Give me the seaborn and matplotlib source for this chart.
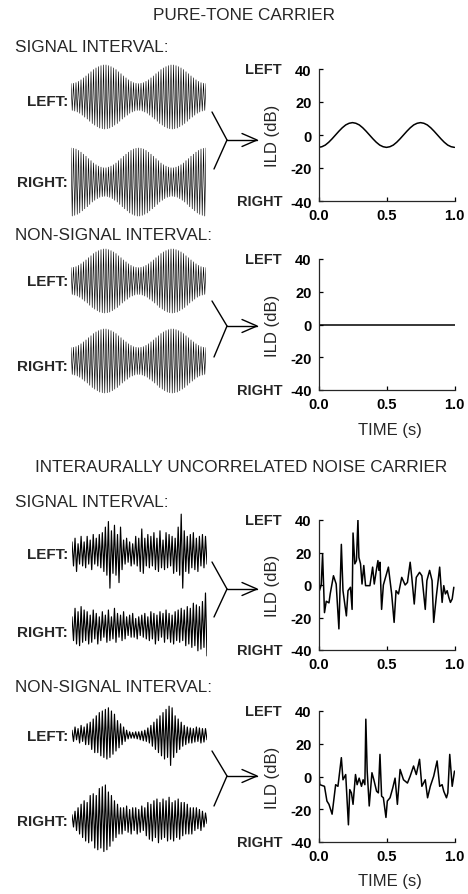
import numpy as np
import matplotlib
matplotlib.use("Agg")
import matplotlib.pyplot as plt
import seaborn as sns

sns.set_style("ticks")
plt.rcParams["font.family"] = ["Liberation Sans", "DejaVu Sans"]

W, H = 468, 895

# ---------------------------------------------------------------- data
# amplitude-modulated pure tone: peak amplitude of each carrier half-cycle
ENV_QUARTER_PEAK = [
    0.42, 0.42, 0.43, 0.44, 0.45, 0.47, 0.49, 0.51, 0.54, 0.57, 0.60, 0.63, 0.66, 0.69,
    0.73, 0.76, 0.79, 0.83, 0.86, 0.88, 0.91, 0.93, 0.95, 0.97, 0.98, 0.99, 1.00, 1.00,
    1.00, 0.99, 0.98, 0.97, 0.95, 0.93, 0.91, 0.88, 0.86, 0.83, 0.79, 0.76, 0.73, 0.69,
    0.66, 0.63, 0.60, 0.57, 0.54, 0.51, 0.49, 0.47, 0.45, 0.44, 0.43, 0.42,
    0.42, 0.42, 0.43, 0.44, 0.45, 0.47, 0.49, 0.51, 0.54, 0.57, 0.60, 0.63, 0.66, 0.69,
    0.73, 0.76, 0.79, 0.83, 0.86, 0.88, 0.91, 0.93, 0.95, 0.97, 0.98, 0.99, 1.00, 1.00,
    1.00, 0.99, 0.98, 0.97, 0.95, 0.93, 0.91, 0.88, 0.86, 0.83, 0.79, 0.76, 0.73, 0.69,
    0.66, 0.63, 0.60, 0.57, 0.54, 0.51, 0.49, 0.47, 0.45, 0.44, 0.43, 0.42,
    0.42]
ENV_EDGE_PEAK = [
    1.00, 1.00, 0.99, 0.98, 0.97, 0.95, 0.93, 0.91, 0.88, 0.85, 0.82, 0.79, 0.76, 0.73,
    0.69, 0.66, 0.63, 0.59, 0.56, 0.54, 0.51, 0.49, 0.47, 0.45, 0.44, 0.43, 0.42, 0.42,
    0.42, 0.43, 0.44, 0.45, 0.47, 0.49, 0.51, 0.54, 0.56, 0.59, 0.63, 0.66, 0.69, 0.73,
    0.76, 0.79, 0.82, 0.85, 0.88, 0.91, 0.93, 0.95, 0.97, 0.98, 0.99, 1.00,
    1.00, 1.00, 0.99, 0.98, 0.97, 0.95, 0.93, 0.91, 0.88, 0.85, 0.82, 0.79, 0.76, 0.73,
    0.69, 0.66, 0.63, 0.59, 0.56, 0.54, 0.51, 0.49, 0.47, 0.45, 0.44, 0.43, 0.42, 0.42,
    0.42, 0.43, 0.44, 0.45, 0.47, 0.49, 0.51, 0.54, 0.56, 0.59, 0.63, 0.66, 0.69, 0.73,
    0.76, 0.79, 0.82, 0.85, 0.88, 0.91, 0.93, 0.95, 0.97, 0.98, 0.99, 1.00,
    1.00]

# interaurally uncorrelated noise, sampled waveforms (relative amplitude)
NOISE_SIG_LEFT = [0.3, -0.35, 0.4, -0.5, 0.25, -0.3, 0.45, -0.35, 0.3, -0.4,
                  0.45, -0.3, 0.35, -0.45, 0.5, -0.3, 0.4, -0.35, 0.5,
                  -0.4, 0.55, -0.5, 0.7, -0.6, 0.85, -0.95, 0.6,
                  -0.55, 0.75, -0.6, 0.5, -0.8, 0.7, -0.45,
                  0.35, -0.3, 0.4, -0.25, 0.3, -0.35, 0.25, -0.3, 0.45, -0.35, 0.4,
                  -0.5, 0.65, -0.55, 0.4, -0.35, 0.5, -0.4, 0.45,
                  -0.35, 0.55, -0.45, 0.4, -0.5, 0.6, -0.4, 0.35, -0.45, 0.55, -0.4,
                  0.5, -0.35, 0.45, -0.55, 0.4,
                  -0.5, 0.7, -0.6, 1.05, -0.95, 0.6, -0.5,
                  0.45, -0.55, 0.5, -0.4, 0.55, -0.45, 0.4, -0.5, 0.45, -0.35, 0.5,
                  -0.4, 0.45, -0.3]
NOISE_SIG_RIGHT = [0.3, -0.4, 0.55, -0.5, 0.45, -0.55, 0.6, -0.45, 0.5, -0.4,
                   0.45, -0.5, 0.35, -0.45, 0.5, -0.35, 0.4, -0.5, 0.3, -0.4, 0.45,
                   -0.3, 0.35, -0.45, 0.5, -0.4, 0.3, -0.35, 0.55, -0.45, 0.4, -0.3,
                   0.35, -0.4, 0.45, -0.35,
                   0.3, -0.25, 0.35, -0.3, 0.4, -0.3, 0.25, -0.35, 0.3, -0.25, 0.35,
                   -0.3, 0.4, -0.35, 0.3,
                   -0.4, 0.45, -0.35, 0.4, -0.5, 0.35, -0.4, 0.45, -0.3, 0.4, -0.45,
                   0.5, -0.35, 0.4, -0.45, 0.35, -0.5, 0.45, -0.4, 0.5, -0.45, 0.55,
                   -0.4, 0.5, -0.55,
                   0.6, -0.5, 0.55, -0.6, 0.7, -0.55, 0.65, -0.7, 0.6, -0.65, 0.75,
                   -0.6, 1.0, -0.85]
NOISE_NON_LEFT = [0.15, -0.2, 0.25, -0.15, 0.2, -0.25, 0.3, -0.2, 0.25, -0.3, 0.35,
                  -0.3, 0.4,
                  -0.45, 0.5, -0.55, 0.6, -0.55, 0.7, -0.65, 0.75, -0.7, 0.8, -0.75,
                  0.85, -0.7, 0.75, -0.6, 0.65, -0.5, 0.45, -0.4, 0.35, -0.3, 0.25,
                  -0.2, 0.15, -0.12, 0.1, -0.1, 0.08, -0.1, 0.1, -0.12, 0.1, -0.15,
                  0.12, -0.18, 0.15, -0.2, 0.22, -0.25,
                  0.3, -0.35, 0.4, -0.45, 0.5, -0.55, 0.6, -0.65, 0.7, -0.75, 0.8,
                  -0.7, 0.9, -0.95, 0.85, -0.7, 0.6, -0.55, 0.5, -0.45, 0.4, -0.35,
                  0.3, -0.3, 0.25,
                  -0.25, 0.22, -0.25, 0.2, -0.22, 0.25, -0.2, 0.22, -0.25, 0.2,
                  -0.22, 0.2, -0.15]
NOISE_NON_RIGHT = [0.15, -0.2, 0.25, -0.3, 0.35,
                   -0.4, 0.45, -0.5, 0.55, -0.6, 0.5, -0.65, 0.7, -0.6, 0.75, -0.8,
                   0.7, -0.85, 0.9, -0.8, 0.95, -0.9, 1.0, -0.85, 0.8, -0.75, 0.7,
                   -0.6, 0.55, -0.5, 0.45, -0.4,
                   0.35, -0.4, 0.35, -0.3, 0.4, -0.35, 0.3, -0.4, 0.35, -0.3, 0.35,
                   -0.4, 0.3, -0.35, 0.4, -0.3, 0.35,
                   -0.45, 0.5, -0.55, 0.45, -0.6, 0.55, -0.5, 0.6, -0.65, 0.5, -0.55,
                   0.6, -0.5, 0.55, -0.6, 0.65, -0.55, 0.5, -0.6, 0.55, -0.5, 0.6,
                   -0.55, 0.5, -0.45, 0.5, -0.4, 0.45, -0.4, 0.35, -0.4,
                   0.35, -0.3, 0.35, -0.25, 0.3, -0.3, 0.25, -0.2, 0.2, -0.1]

# interaural level difference traces (dB)
ILD_TONE_T = [0.000, 0.025, 0.050, 0.075, 0.100, 0.125, 0.150, 0.175, 0.200, 0.225,
              0.250, 0.275, 0.300, 0.325, 0.350, 0.375, 0.400, 0.425, 0.450, 0.475,
              0.500, 0.525, 0.550, 0.575, 0.600, 0.625, 0.650, 0.675, 0.700, 0.725,
              0.750, 0.775, 0.800, 0.825, 0.850, 0.875, 0.900, 0.925, 0.950, 0.975,
              1.000]
ILD_TONE_SIG = [-7.5, -7.1, -6.1, -4.4, -2.3, 0.0, 2.3, 4.4, 6.1, 7.1,
                7.5, 7.1, 6.1, 4.4, 2.3, 0.0, -2.3, -4.4, -6.1, -7.1,
                -7.5, -7.1, -6.1, -4.4, -2.3, 0.0, 2.3, 4.4, 6.1, 7.1,
                7.5, 7.1, 6.1, 4.4, 2.3, 0.0, -2.3, -4.4, -6.1, -7.1, -7.5]
ILD_TONE_NON_T = [0.0, 0.25, 0.5, 0.75, 1.0]
ILD_TONE_NON = [0.0, 0.0, 0.0, 0.0, 0.0]

ILD_NOISE_SIG_T = [0, 0.007, 0.02, 0.03, 0.044, 0.057, 0.077, 0.086, 0.11, 0.13,
                   0.15, 0.168, 0.18, 0.205, 0.217, 0.235, 0.247, 0.254, 0.267, 0.279,
                   0.29, 0.297, 0.309, 0.32, 0.333, 0.346, 0.378, 0.398, 0.41, 0.427,
                   0.437, 0.444, 0.452, 0.464, 0.477, 0.514, 0.538, 0.556, 0.57, 0.588,
                   0.612, 0.637, 0.654, 0.674, 0.686, 0.704, 0.719, 0.743, 0.76, 0.785,
                   0.797, 0.817, 0.835, 0.847, 0.867, 0.891, 0.909, 0.921, 0.933, 0.946,
                   0.958, 0.97, 0.983, 0.995]
ILD_NOISE_SIG = [19, -3.5, 0, 19, -17, -10, -11, -5.5, 5.7, 0.6,
                 -27, 25, -3.5, -19, -3.5, -1.4, -15, 32, 13, 15,
                 40, 17, 13, 0.6, 12, -0.4, -0.4, 11, 0.6, 10,
                 15, 9, 14, -15, 0, 11, -5.5, -23, -3.5, -5.5,
                 4.7, 0, 1.6, 14, 4.7, -11.7, 4.7, 7.8, 5.7, -15,
                 2.7, 9, 2.7, -23, -6.5, 11, -10.7, -0.4, -5.5, -3.5,
                 -7.6, -10.7, -8.6, -1.4]
ILD_NOISE_NON_T = [0, 0.01, 0.044, 0.062, 0.077, 0.1, 0.126, 0.143, 0.168, 0.18,
                   0.2, 0.22, 0.23, 0.242, 0.254, 0.272, 0.284, 0.299, 0.316, 0.328,
                   0.341, 0.348, 0.358, 0.373, 0.393, 0.407, 0.427, 0.44, 0.452, 0.464,
                   0.477, 0.496, 0.506, 0.526, 0.546, 0.563, 0.58, 0.6, 0.625, 0.654,
                   0.674, 0.699, 0.719, 0.743, 0.76, 0.785, 0.802, 0.822, 0.847, 0.872,
                   0.891, 0.909, 0.921, 0.941, 0.951, 0.965, 0.983, 1.0]
ILD_NOISE_NON = [5.3, -5, -6, -15, -17, -23, -5, -6, 11.5, -2,
                 1.2, -29.5, -8, -10, -17, 1.2, -5, -1, -6, -2,
                 -5, 35, 3.3, -18, 2.3, -2, -9, -10, 13.5, -12,
                 -13, -25, -15, -13, -7, -1, -17, 4.3, -2, -4,
                 0.2, 6.4, 1.2, 10.5, -6, -2, -13, -6, 0.2, 9.5,
                 -6, -5, -9, -13, -10, 13.5, -6, 3.3]

ILD_TICKS = [-40, -20, 0, 20, 40]
ILD_TICK_LABELS = ["-40", "-20", "0", "20", "40"]
TIME_TICKS = [0.0, 0.5, 1.0]
TIME_TICK_LABELS = ["0.0", "0.5", "1.0"]

# ---------------------------------------------------------------- layout
fig = plt.figure(figsize=(W / 100, H / 100), dpi=100)


def box(x0, x1, top, bot):
    return [x0 / W, 1 - bot / H, (x1 - x0) / W, (bot - top) / H]


def ftext(x, y, s, **kw):
    fig.text(x / W, 1 - y / H, s, **kw)


overlay = fig.add_axes([0, 0, 1, 1])
overlay.set_xlim(0, W)
overlay.set_ylim(H, 0)
overlay.axis("off")


def waveform(x0, x1, yc, half, values, lw=0.6):
    ax = fig.add_axes(box(x0, x1, yc - half * 1.1, yc + half * 1.1))
    t = np.linspace(0, 1, len(values))
    sns.lineplot(x=t, y=values, ax=ax, color="black", lw=lw,
                 estimator=None, sort=False)
    ax.set_xlim(0, 1)
    ax.set_ylim(-1.1, 1.1)
    ax.axis("off")


def tone(env):
    # carrier half-cycles alternate in polarity
    sign = np.resize([1, -1], len(env))
    return np.asarray(env) * sign


def splitter(yc, top_y, bot_y):
    kw = dict(color="black", lw=1.0, solid_capstyle="round")
    overlay.plot([212, 227], [top_y, yc], **kw)
    overlay.plot([227, 214], [yc, bot_y], **kw)
    overlay.plot([227, 257], [yc, yc], **kw)
    overlay.plot([242, 257, 242], [yc - 6.5, yc, yc + 6.5], **kw)


def ild_panel(top, bot, t, v, xlabel):
    ax = fig.add_axes(box(318.5, 454.5, top, bot))
    sns.lineplot(x=t, y=v, ax=ax, color="black", lw=1.1,
                 estimator=None, sort=False)
    ax.set_xlim(0, 1)
    ax.set_ylim(-40, 40)
    ax.set_yticks(ILD_TICKS)
    ax.set_yticklabels(ILD_TICK_LABELS, fontweight="bold", fontsize=10.5)
    ax.set_xticks(TIME_TICKS)
    ax.set_xticklabels(TIME_TICK_LABELS, fontweight="bold", fontsize=10.5)
    ax.set_xlabel("")
    ax.set_ylabel("")
    sns.despine(ax=ax)
    for s in ("left", "bottom"):
        ax.spines[s].set_linewidth(0.9)
    ax.tick_params(direction="in", length=3, width=0.9, pad=5, colors="black")
    ax.patch.set_alpha(0)
    ftext(272, (top + bot) / 2, "ILD (dB)", rotation=90, ha="center",
          va="center", fontsize=12)
    ftext(282, top, "LEFT", ha="right", va="center", fontsize=10.5,
          fontweight="bold")
    ftext(282, bot, "RIGHT", ha="right", va="center", fontsize=10.5,
          fontweight="bold")
    if xlabel:
        ftext(390, bot + 39, "TIME (s)", ha="center", va="center", fontsize=12)


def ear_labels(y_left, y_right):
    ftext(68, y_left, "LEFT:", ha="right", va="center", fontsize=11,
          fontweight="bold")
    ftext(68, y_right, "RIGHT:", ha="right", va="center", fontsize=11,
          fontweight="bold")


# ---------------------------------------------------------------- pure tone
ftext(244, 15, "PURE-TONE CARRIER", ha="center", va="center", fontsize=12.3)

ftext(15, 48, "SIGNAL INTERVAL:", ha="left", va="center", fontsize=12.3)
ear_labels(102, 183)
waveform(71, 206, 98, 32, tone(ENV_QUARTER_PEAK), lw=0.45)
waveform(71, 206, 183, 34, tone(ENV_EDGE_PEAK), lw=0.45)
splitter(141, 113, 170)
ild_panel(70, 202, ILD_TONE_T, ILD_TONE_SIG, False)

ftext(15, 235, "NON-SIGNAL INTERVAL:", ha="left", va="center", fontsize=12.3)
ear_labels(282, 367)
waveform(71, 206, 282, 32, tone(ENV_QUARTER_PEAK), lw=0.45)
waveform(71, 206, 362, 32, tone(ENV_QUARTER_PEAK), lw=0.45)
splitter(327, 302, 358)
ild_panel(260, 391, ILD_TONE_NON_T, ILD_TONE_NON, True)

# ---------------------------------------------------------------- noise
ftext(241, 468, "INTERAURALLY UNCORRELATED NOISE CARRIER", ha="center",
      va="center", fontsize=12.3)

ftext(15, 503, "SIGNAL INTERVAL:", ha="left", va="center", fontsize=12.3)
ear_labels(555, 633)
waveform(72, 207, 554, 37, NOISE_SIG_LEFT, lw=0.85)
waveform(72, 207, 628, 34, NOISE_SIG_RIGHT, lw=0.85)
splitter(590, 563, 618)
ild_panel(521, 651, ILD_NOISE_SIG_T, ILD_NOISE_SIG, False)

ftext(15, 687, "NON-SIGNAL INTERVAL:", ha="left", va="center", fontsize=12.3)
ear_labels(737, 822)
waveform(72, 207, 736, 32, NOISE_NON_LEFT, lw=0.85)
waveform(72, 207, 821, 35, NOISE_NON_RIGHT, lw=0.85)
splitter(777, 752, 807)
ild_panel(712, 843, ILD_NOISE_NON_T, ILD_NOISE_NON, True)

fig.savefig("out.png", dpi=100, facecolor="white")
